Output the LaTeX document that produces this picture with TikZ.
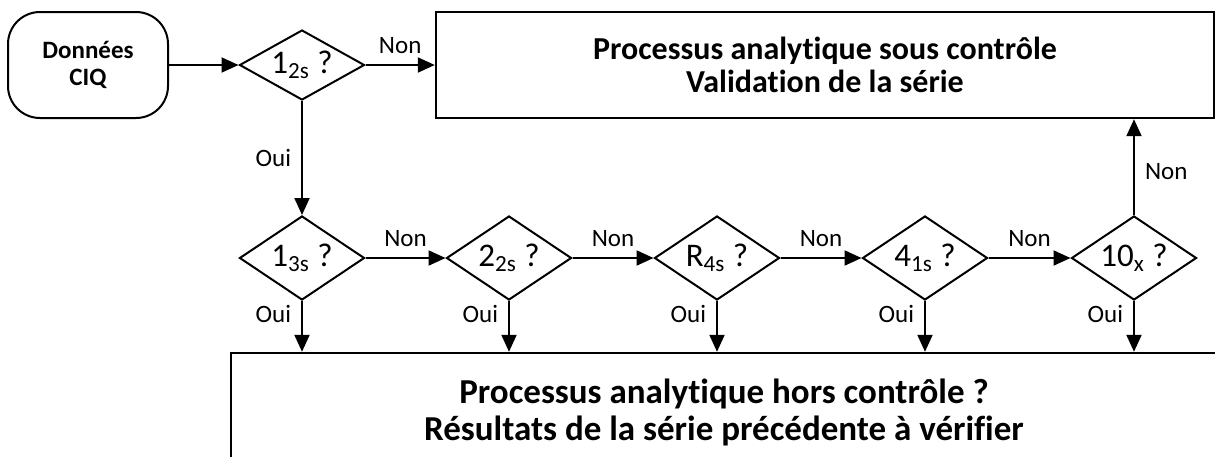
\documentclass[tikz,border=0pt]{standalone}
\usepackage{fontspec}
\setmainfont{Carlito}[Ligatures=CommonOff]
\usetikzlibrary{shapes.geometric, arrows.meta, positioning, calc}

\begin{document}
\begin{tikzpicture}[
    x=0.5pt, y=-0.5pt,
    >={Triangle[length=8.5pt, width=7.5pt]},
    % Start terminal (control data)
    terminal/.style={
        rectangle, rounded corners=16pt, draw, line width=1pt,
        minimum width=80pt, minimum height=53pt, align=center,
        font=\fontsize{12.5}{13.5}\selectfont\bfseries
    },
    % Westgard rule test
    rule/.style={
        diamond, draw, line width=1pt, inner sep=0pt, aspect=1.8,
        minimum width=62.5pt, minimum height=42pt,
        font=\fontsize{16.5}{20}\selectfont
    },
    % Decision boxes (in / out of control)
    outcome/.style={
        rectangle, draw, line width=1.2pt, align=center,
        font=\fontsize{16}{16.5}\selectfont\bfseries
    },
    % Oui / Non labels on the flows
    answer/.style={font=\fontsize{12.5}{14}\selectfont, inner sep=3pt},
    flow/.style={->, line width=1pt}
]
    \useasboundingbox (0,0) rectangle (1215,456);
    \clip (0,0) rectangle (1215,456);

    % =========================================================================
    % Start and first rule
    % =========================================================================
    \node[terminal] (ciq) at (88,65) {Données\\CIQ};

    \node[rule, minimum height=35pt] (q12s) at (302,65) {1\textsubscript{2s} ?};

    % =========================================================================
    % Outcomes
    % =========================================================================
    \node[outcome, minimum width=389pt, minimum height=53pt] (ok) at (825,65) {%
        Processus analytique sous contrôle\\
        Validation de la série
    };

    \node[outcome, minimum width=493pt, minimum height=59pt,
          font=\fontsize{17.5}{18.5}\selectfont\bfseries] (ko) at (724,412) {%
        Processus analytique hors contrôle ?\\
        Résultats de la série précédente à vérifier
    };

    % =========================================================================
    % Second row of rules
    % =========================================================================
    \node[rule] (q13s) at (302,258) {1\textsubscript{3s} ?};
    \node[rule] (q22s) at (509,258) {2\textsubscript{2s} ?};
    \node[rule] (r4s)  at (717,258) {R\textsubscript{4s} ?};
    \node[rule] (q41s) at (925,258) {4\textsubscript{1s} ?};
    \node[rule] (q10x) at (1134,258) {10\textsubscript{x} ?};

    % =========================================================================
    % Flows
    % =========================================================================
    \draw[flow] (ciq.east) -- (q12s.west);

    \draw[flow] (q12s.east) -- (ok.west)
        node[midway, answer, above=2pt] {Non};

    \draw[flow] (q12s.south) -- (q13s.north)
        node[midway, answer, left=2pt] {Oui};

    \draw[flow] (q13s.east) -- (q22s.west)
        node[midway, answer, above=2pt] {Non};
    \draw[flow] (q22s.east) -- (r4s.west)
        node[midway, answer, above=2pt] {Non};
    \draw[flow] (r4s.east) -- (q41s.west)
        node[midway, answer, above=2pt] {Non};
    \draw[flow] (q41s.east) -- (q10x.west)
        node[midway, answer, above=2pt] {Non};

    \draw[flow] (q10x.north) -- (q10x.north |- ok.south)
        node[pos=0.45, answer, right=2pt] {Non};

    % every rule violated -> out of control
    \foreach \q in {q13s, q22s, r4s, q41s, q10x}
        \draw[flow] (\q.south) -- (\q.south |- ko.north)
            node[pos=0.26, answer, left=2pt] {Oui};

\end{tikzpicture}
\end{document}
